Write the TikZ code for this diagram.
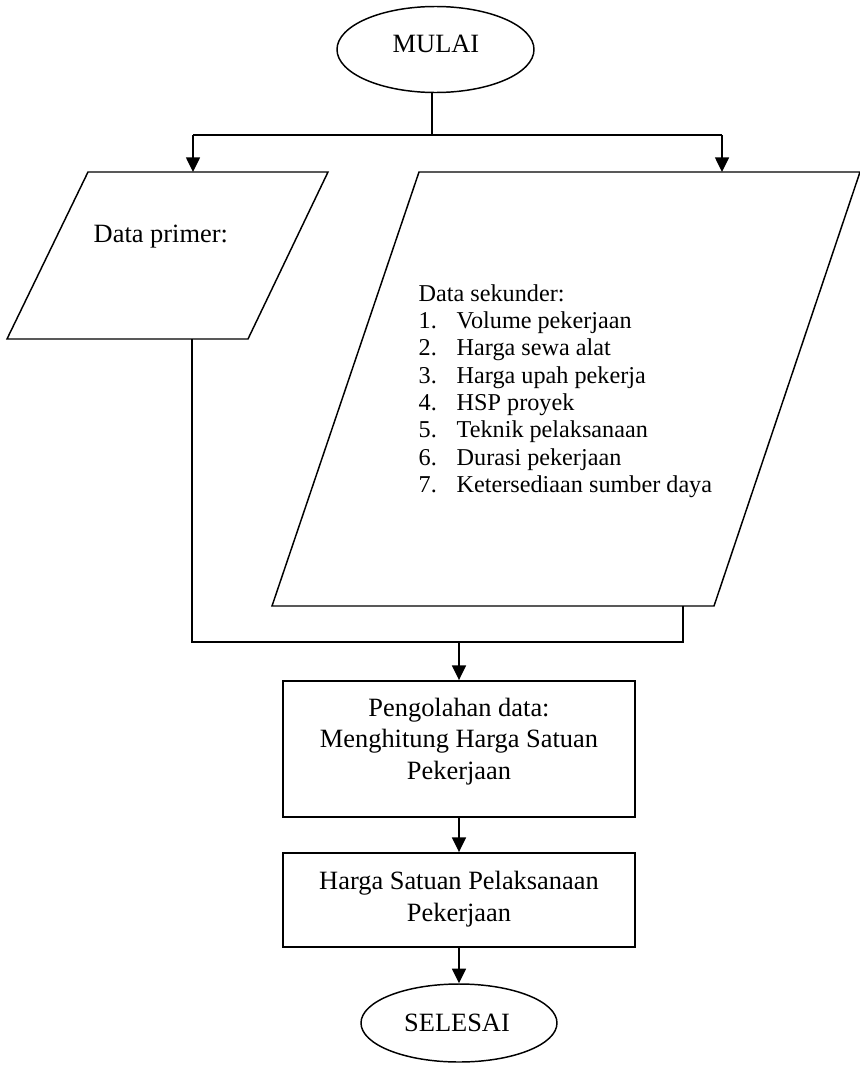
\documentclass[tikz,border=0pt]{standalone}
\usepackage{fontspec}
\setmainfont{Liberation Serif}
\usetikzlibrary{shapes.geometric,arrows.meta}
\begin{document}
\begin{tikzpicture}[x=0.75pt,y=-0.75pt,
  line width=1.1pt,
  arr/.style={-{Triangle[length=11pt,width=10.5pt]}},
  term/.style={draw,ellipse,inner sep=0pt,font=\fontsize{19.8}{23.8}\selectfont},
  procbox/.style={draw,rectangle,inner sep=0pt,minimum width=264pt,line width=1.4pt},
  txt/.style={inner sep=0pt,font=\fontsize{19.8}{23.8}\selectfont,align=center},
  listtxt/.style={inner sep=0pt,font=\fontsize{18.15}{20.5}\selectfont}]
\useasboundingbox (0,0) rectangle (860,1067);
% start
\node[term,minimum width=147.75pt,minimum height=64.5pt] (mulai) at (435.5,49.5) {};
\node[txt] (mulaitxt) at (436,43.5) {MULAI};
\coordinate (split) at (432,135);
\coordinate (bl) at (193,135);
\coordinate (br) at (722,135);
% parallelograms
\coordinate (p1a) at (88,172);
\coordinate (p1b) at (328,172);
\coordinate (p1c) at (248,339);
\coordinate (p1d) at (7,339);
\draw (p1a) -- (p1b) -- (p1c) -- (p1d) -- cycle;
\coordinate (p2a) at (419,172);
\coordinate (p2b) at (860,172);
\coordinate (p2c) at (714,606);
\coordinate (p2d) at (272,606);
\draw (p2a) -- (p2b) -- (p2c) -- (p2d) -- cycle;
\node[txt,anchor=base west] (primer) at (93,242) {Data primer:};
\node[listtxt,anchor=base west] (sekunder) at (418,301) {\begin{tabular}[t]{@{}l@{}}
Data sekunder:\\
\makebox[28.5pt][l]{1.}Volume pekerjaan\\
\makebox[28.5pt][l]{2.}Harga sewa alat\\
\makebox[28.5pt][l]{3.}Harga upah pekerja\\
\makebox[28.5pt][l]{4.}HSP proyek\\
\makebox[28.5pt][l]{5.}Teknik pelaksanaan\\
\makebox[28.5pt][l]{6.}Durasi pekerjaan\\
\makebox[28.5pt][l]{7.}Ketersediaan sumber daya
\end{tabular}};
% branch connectors
\draw (mulai.south -| split) -- (split);
\draw (bl) -- (br);
\draw[arr] (bl) -- (bl |- p1a);
\draw[arr] (br) -- (br |- p2a);
% merge
\coordinate (m1) at (192,339);
\coordinate (m2) at (192,642);
\coordinate (m3) at (683,642);
\coordinate (m4) at (683,606);
\coordinate (mc) at (459,642);
\draw (m1) -- (m2) -- (m3) -- (m4);
% process boxes
\node[procbox,minimum height=102pt] (proses) at (459,749) {};
\node[txt] (prosestxt) at (459,741.5) {Pengolahan data:\\Menghitung Harga Satuan\\Pekerjaan};
\node[procbox,minimum height=70.5pt] (hasil) at (459,900) {};
\node[txt] (hasiltxt) at (459,899) {Harga Satuan Pelaksanaan\\Pekerjaan};
\node[term,minimum width=147pt,minimum height=58.5pt] (selesai) at (459,1023) {};
\node[txt] (selesaitxt) at (457,1023) {SELESAI};
\draw[arr] (mc) -- (proses.north);
\draw[arr] (proses.south) -- (hasil.north);
\draw[arr] (hasil.south) -- (selesai.north);
\end{tikzpicture}
\end{document}
